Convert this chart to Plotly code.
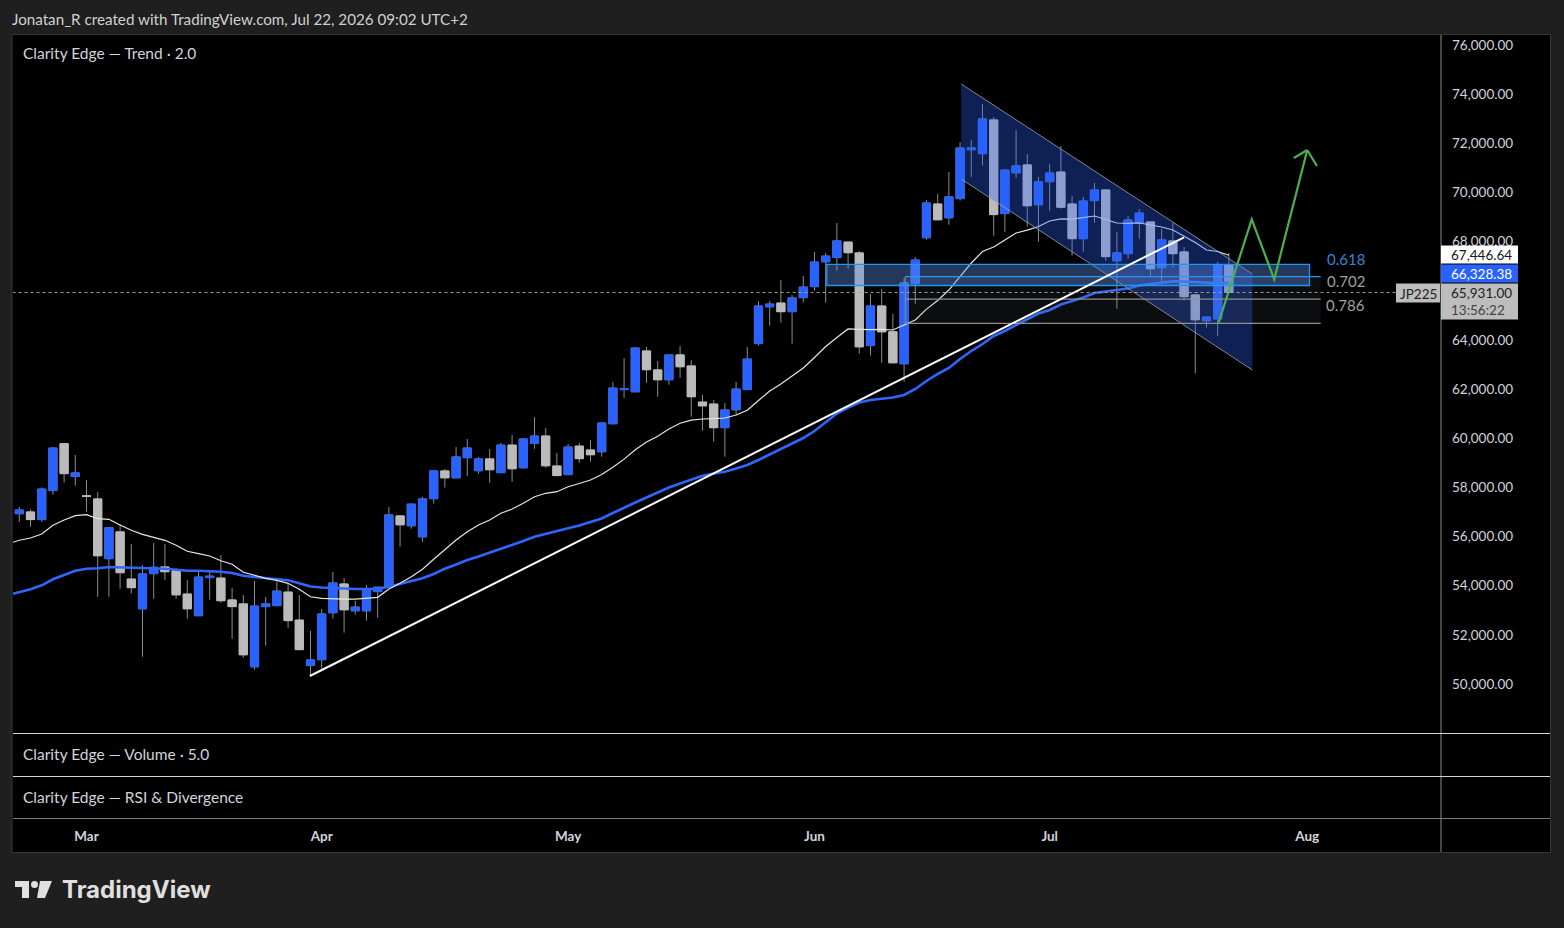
import plotly.graph_objects as go

# ---------------- data (bar index = trading session, prices in index points) ----------------
open_ = [56930, 57000, 56690, 57870, 59780, 58440, 57660, 57530, 55100, 56190,
         54270, 53060, 54490, 54760, 54610, 53660, 52780, 54330, 54310, 53420,
         53260, 50700, 53150, 53190, 53740, 52600, 50750, 50990, 52900, 54070,
         52980, 52980, 53760, 53960, 56840, 56440, 55990, 57540, 58670, 58390,
         59210, 58680, 59160, 58600, 59720, 58800, 59790, 60090, 58870, 58520,
         59680, 59520, 59450, 60590, 61980, 61890, 63550, 62780, 62380, 63390,
         62940, 61470, 61390, 60430, 61160, 61980, 63850, 65350, 65500, 65150,
         65720, 66170, 67180, 67350, 67980, 67540, 63770, 65380, 64330, 63030,
         66290, 68160, 69530, 68970, 69750, 71740, 71580, 72950, 69140, 70800,
         71120, 69500, 70440, 70830, 69530, 68120, 69670, 70100, 67220, 67510,
         68770, 68800, 66940, 68030, 67580, 65830, 64780, 64860, 67050]
high = [57200, 57110, 58000, 59640, 59810, 59320, 58300, 57810, 56400, 56500,
        55700, 54840, 55740, 55700, 54710, 54230, 54560, 54560, 55250, 53910,
        53620, 54190, 53540, 54310, 54100, 53620, 52160, 53050, 54560, 54310,
        53390, 54030, 53940, 57200, 56880, 57330, 57610, 58710, 58750, 59640,
        59970, 59240, 59560, 59810, 60130, 60010, 60860, 60420, 59400, 59770,
        59810, 59930, 60630, 62290, 63260, 63680, 63710, 63140, 63390, 63750,
        63180, 61760, 61560, 61430, 62290, 63710, 65580, 65580, 66440, 65830,
        66600, 67580, 67540, 68760, 67990, 67620, 65870, 66070, 65060, 66520,
        67370, 69690, 69940, 70830, 72050, 72130, 73600, 73070, 70950, 72540,
        71560, 70630, 71160, 71890, 69860, 69820, 70390, 70140, 68390, 69040,
        69330, 68810, 68510, 68760, 67780, 65840, 64940, 67170, 67540]
low = [56590, 56400, 56600, 57700, 58190, 58070, 57010, 53550, 53550, 53880,
       53690, 51110, 53470, 54240, 53470, 52660, 52760, 53430, 53310, 51840,
       51070, 50580, 51560, 53170, 52290, 51380, 50340, 50620, 52660, 52090,
       52820, 52580, 52700, 53940, 55590, 56320, 55790, 57340, 57990, 58380,
       58460, 58560, 58190, 58590, 58230, 58760, 59570, 58800, 58460, 58500,
       59000, 59050, 59250, 60580, 61640, 61880, 62260, 61690, 62180, 62460,
       60880, 60310, 59860, 59250, 60960, 61960, 63770, 64580, 64700, 63850,
       65520, 66000, 65520, 66820, 66900, 63440, 63360, 63070, 63060, 62300,
       65470, 68080, 68880, 68690, 69670, 70640, 71090, 68240, 68400, 70600,
       68610, 68000, 69260, 69340, 67430, 67590, 68770, 67220, 65270, 67300,
       68120, 66610, 66250, 66940, 65600, 62640, 64500, 64170, 65930]
close = [57080, 56690, 57930, 59600, 58560, 58590, 57630, 55220, 56360, 54530,
         53920, 54480, 54750, 54570, 53630, 53060, 54350, 54390, 53390, 53150,
         51190, 53170, 53260, 53780, 52580, 51400, 50980, 52850, 54110, 53020,
         53130, 53870, 53940, 56880, 56480, 57320, 57530, 58670, 58390, 59240,
         59600, 59160, 58720, 59720, 58760, 59970, 60090, 58880, 58480, 59640,
         59170, 59330, 60620, 62040, 62010, 63670, 62790, 62380, 63390, 62910,
         61690, 61320, 60430, 61150, 62000, 63220, 65380, 65460, 65150, 65710,
         66150, 67170, 67410, 68030, 67550, 63720, 65380, 64330, 63070, 66320,
         67250, 69570, 68890, 69820, 71810, 71810, 72990, 69100, 70910, 71080,
         69460, 70430, 70790, 69400, 68120, 69650, 70100, 67390, 67540, 68880,
         69160, 66900, 68070, 67510, 65760, 64820, 64930, 67050, 65931]

# moving averages (white = fast SMA, blue = slow EMA)
ma_bar = [-0.56] + list(range(109))
sma_val = [55766, 55850, 55940, 56104, 56458, 56673, 56848, 56889, 56726, 56702,
           56470, 56254, 56091, 55981, 55847, 55644, 55400, 55302, 55208, 55017,
           54871, 54545, 54407, 54301, 54220, 54098, 53854, 53552, 53487, 53458,
           53458, 53458, 53487, 53527, 53865, 54098, 54366, 54667, 55074, 55453,
           55860, 56197, 56470, 56673, 56946, 57121, 57353, 57621, 57760, 57825,
           58028, 58158, 58301, 58524, 58817, 59151, 59534, 59847, 60083, 60376,
           60612, 60738, 60783, 60795, 60823, 60946, 61137, 61536, 61923, 62208,
           62533, 62858, 63286, 63733, 64100, 64446, 64433, 64417, 64433, 64405,
           64608, 64811, 65255, 65604, 66031, 66573, 67130, 67598, 67781, 68066,
           68351, 68465, 68615, 68839, 68928, 68912, 68981, 69042, 68900, 68758,
           68745, 68766, 68676, 68595, 68473, 68229, 67965, 67659, 67598, 67447]
ema_val = [53674, 53744, 53854, 54017, 54261, 54436, 54611, 54692, 54708, 54761,
           54749, 54733, 54733, 54720, 54692, 54651, 54611, 54611, 54598, 54570,
           54517, 54407, 54354, 54301, 54261, 54220, 54098, 53968, 53927, 53907,
           53874, 53866, 53866, 53874, 53959, 54069, 54191, 54301, 54476, 54692,
           54863, 55046, 55188, 55343, 55493, 55656, 55818, 55994, 56104, 56197,
           56336, 56450, 56592, 56734, 56958, 57182, 57385, 57588, 57791, 57994,
           58158, 58320, 58471, 58565, 58638, 58768, 58910, 59114, 59338, 59562,
           59765, 60010, 60295, 60661, 61007, 61251, 61454, 61556, 61617, 61658,
           61759, 62003, 62329, 62614, 62858, 63224, 63550, 63834, 64160, 64364,
           64608, 64831, 65075, 65218, 65442, 65584, 65726, 65910, 65971, 66031,
           66092, 66214, 66268, 66316, 66385, 66377, 66357, 66316, 66304, 66328]

month_labels = ["Mar", "Apr", "May", "Jun", "Jul", "Aug"]
month_bars = [6, 27, 49, 71, 92, 115]
price_ticks = list(range(50000, 76001, 2000))

# drawings (anchors in bar index / price)
trend_bar = [25.94, 104.0]
trend_price = [50326, 68176]
channel_bar = [84.1, 110.1]
channel_upper = [74413, 66683]
channel_lower = [70548, 62776]
fib_box_bar = [72.1, 115.2]
fib_box_price = [67077, 66215]
fib_levels = ["0.618", "0.702", "0.786"]
fib_prices = [66573, 65658, 64677]
fib_bar = [79.1, 116.2]
fib_label_bar = 120.3
arrow_bar = [107.05, 110.04, 112.05, 115.0]
arrow_price = [64648, 68908, 66467, 71728]
arrow_head_bar = [113.8, 115.86]
arrow_head_price = [71402, 71077]

symbol = "JP225"
last_price = 65931.00
sma_last = 67446.64
ema_last = 66328.38
countdown = "13:56:22"

# ---------------- styling ----------------
W, H = 1564, 928
L, R, T, B = 13, 1441, 35, 818
BLUE = "#2962ff"
GREY = "#bbbbbb"
WICK = "#8c8c8c"
TXT = "#d1d4dc"
FONT = "Lato"


def X(px):
    return (px - L) / (R - L)


def Y(py):
    return (B - py) / (B - T)


bar_idx = list(range(len(open_)))
body_hi = [max(o, c) for o, c in zip(open_, close)]
body_lo = [min(o, c) for o, c in zip(open_, close)]

fig = go.Figure()

# wicks
fig.add_trace(go.Candlestick(
    x=bar_idx, open=open_, high=high, low=low, close=close,
    increasing=dict(line=dict(color=WICK, width=1), fillcolor=BLUE),
    decreasing=dict(line=dict(color=WICK, width=1), fillcolor=GREY),
    hoverinfo="skip", showlegend=False))
# bodies
fig.add_trace(go.Candlestick(
    x=bar_idx, open=open_, high=body_hi, low=body_lo, close=close,
    increasing=dict(line=dict(color=BLUE, width=1), fillcolor=BLUE),
    decreasing=dict(line=dict(color=GREY, width=1), fillcolor=GREY),
    hoverinfo="skip", showlegend=False))

fig.add_trace(go.Scatter(x=ma_bar, y=ema_val, mode="lines",
                         line=dict(color="#2f66ff", width=2.6), hoverinfo="skip", showlegend=False))
fig.add_trace(go.Scatter(x=ma_bar, y=sma_val, mode="lines",
                         line=dict(color="#e6e6e6", width=1.2), hoverinfo="skip", showlegend=False))

shapes = []
# panel background and frame
shapes.append(dict(type="rect", xref="paper", yref="paper", x0=X(12), x1=X(1550.5), y0=Y(852.5), y1=Y(34.5),
                   fillcolor="#000000", line=dict(color="#363636", width=1), layer="below"))

# channel
cpath = "M {a},{b} L {c},{d} L {c},{e} L {a},{f} Z".format(
    a=channel_bar[0], b=channel_upper[0], c=channel_bar[1], d=channel_upper[1],
    e=channel_lower[1], f=channel_lower[0])
shapes.append(dict(type="path", xref="x", yref="y", path=cpath,
                   fillcolor="rgba(41,98,255,0.33)", line=dict(width=0), layer="above"))
shapes.append(dict(type="line", xref="x", yref="y", x0=channel_bar[0], x1=channel_bar[1],
                   y0=channel_upper[0], y1=channel_upper[1], line=dict(color="rgba(170,172,180,0.75)", width=1), layer="above"))
shapes.append(dict(type="line", xref="x", yref="y", x0=channel_bar[0], x1=channel_bar[1],
                   y0=channel_lower[0], y1=channel_lower[1], line=dict(color="rgba(170,172,180,0.75)", width=1), layer="above"))

# fib retracement band
shapes.append(dict(type="rect", xref="x", yref="y", x0=fib_bar[0], x1=fib_bar[1], y0=fib_prices[2], y1=fib_prices[0],
                   fillcolor="rgba(120,123,134,0.10)", line=dict(width=0), layer="above"))
shapes.append(dict(type="line", xref="x", yref="y", x0=fib_bar[0], x1=fib_bar[0], y0=fib_prices[2], y1=fib_prices[0],
                   line=dict(color="#8a8a8a", width=1), layer="above"))
fib_colors = ["#2196f3", "#8f8f8f", "#8f8f8f"]
for p, col in zip(fib_prices, fib_colors):
    shapes.append(dict(type="line", xref="x", yref="y", x0=fib_bar[0], x1=fib_bar[1], y0=p, y1=p,
                       line=dict(color=col, width=1.3), layer="above"))
# blue zone box
shapes.append(dict(type="rect", xref="x", yref="y", x0=fib_box_bar[0], x1=fib_box_bar[1],
                   y0=fib_box_price[1], y1=fib_box_price[0],
                   fillcolor="rgba(90,140,230,0.40)", line=dict(color="#2196f3", width=1.3), layer="above"))

# trend line
shapes.append(dict(type="line", xref="x", yref="y", x0=trend_bar[0], x1=trend_bar[1],
                   y0=trend_price[0], y1=trend_price[1], line=dict(color="#ffffff", width=2), layer="above"))

# projected path (green arrow)
apath = "M " + " L ".join("{},{}".format(b, p) for b, p in zip(arrow_bar, arrow_price))
shapes.append(dict(type="path", xref="x", yref="y", path=apath, line=dict(color="#4caf50", width=2.2), layer="above"))
for hb, hp in zip(arrow_head_bar, arrow_head_price):
    shapes.append(dict(type="line", xref="x", yref="y", x0=arrow_bar[-1], y0=arrow_price[-1], x1=hb, y1=hp,
                       line=dict(color="#4caf50", width=2.2), layer="above"))

# last price dotted line
shapes.append(dict(type="line", xref="x", yref="y", x0=-0.6, x1=122.9, y0=last_price, y1=last_price,
                   line=dict(color="#9e9e9e", width=1, dash="dot"), layer="above"))

# pane separators
shapes.append(dict(type="line", xref="paper", yref="paper", x0=X(1441), x1=X(1441), y0=Y(852), y1=Y(35),
                   line=dict(color="#8a8a8a", width=1), layer="above"))
shapes.append(dict(type="line", xref="paper", yref="paper", x0=X(13), x1=X(1550), y0=Y(733.5), y1=Y(733.5),
                   line=dict(color="#d6d6d6", width=1), layer="above"))
shapes.append(dict(type="line", xref="paper", yref="paper", x0=X(13), x1=X(1550), y0=Y(776.5), y1=Y(776.5),
                   line=dict(color="#d6d6d6", width=1), layer="above"))
shapes.append(dict(type="line", xref="paper", yref="paper", x0=X(13), x1=X(1550), y0=Y(818.5), y1=Y(818.5),
                   line=dict(color="#7a7a7a", width=1), layer="above"))

# price-scale labels (boxes)
shapes.append(dict(type="rect", xref="paper", yref="paper", x0=X(1441), x1=X(1518), y0=Y(263.5), y1=Y(245.5),
                   fillcolor="#ffffff", line=dict(width=0), layer="above"))
shapes.append(dict(type="rect", xref="paper", yref="paper", x0=X(1441), x1=X(1518), y0=Y(282.5), y1=Y(264.5),
                   fillcolor=BLUE, line=dict(width=0), layer="above"))
shapes.append(dict(type="rect", xref="paper", yref="paper", x0=X(1441), x1=X(1518), y0=Y(319.5), y1=Y(283.5),
                   fillcolor="#bdbdbd", line=dict(width=0), layer="above"))
shapes.append(dict(type="rect", xref="paper", yref="paper", x0=X(1396), x1=X(1440), y0=Y(302.5), y1=Y(283.5),
                   fillcolor="#bdbdbd", line=dict(width=0), layer="above"))

# TradingView logo mark
shapes.append(dict(type="rect", xref="paper", yref="paper", x0=X(15), x1=X(29), y0=Y(887), y1=Y(881),
                   fillcolor="#e0e0e0", line=dict(width=0), layer="above"))
shapes.append(dict(type="rect", xref="paper", yref="paper", x0=X(22), x1=X(29), y0=Y(898), y1=Y(881),
                   fillcolor="#e0e0e0", line=dict(width=0), layer="above"))
shapes.append(dict(type="circle", xref="paper", yref="paper", x0=X(31), x1=X(38), y0=Y(888), y1=Y(881),
                   fillcolor="#e0e0e0", line=dict(width=0), layer="above"))
shapes.append(dict(type="path", xref="paper", yref="paper",
                   path="M {},{} L {},{} L {},{} L {},{} Z".format(X(40), Y(881), X(52), Y(881), X(45), Y(898), X(37), Y(898)),
                   fillcolor="#e0e0e0", line=dict(width=0), layer="above"))

annotations = []


def txt(px, py, text, size=14, color=TXT, xanchor="left", weight="normal", family=FONT):
    annotations.append(dict(xref="paper", yref="paper", x=X(px), y=Y(py), text=text, showarrow=False,
                            xanchor=xanchor, yanchor="middle",
                            font=dict(family=family, size=size, color=color, weight=weight)))


txt(10, 19, "Jonatan_R created with TradingView.com, Jul 22, 2026 09:02 UTC+2", size=15.2, color="#d0d0d0")
txt(21, 53, "Clarity Edge — Trend · 2.0", size=15.5)
txt(21, 754, "Clarity Edge — Volume · 5.0", size=15.5)
txt(21, 797, "Clarity Edge — RSI &amp; Divergence", size=15.5)
txt(60, 890, "TradingView", size=24, color="#e0e0e0", weight="bold", family="Inter")

# price scale labels text
txt(1514, 255, "{:,.2f}".format(sma_last), size=13.5, color="#131722", xanchor="right")
txt(1514, 274, "{:,.2f}".format(ema_last), size=13.5, color="#ffffff", xanchor="right")
txt(1514, 293, "{:,.2f}".format(last_price), size=13.5, color="#222222", xanchor="right")
txt(1507, 310, countdown, size=13.5, color="#444444", xanchor="right")
txt(1418, 293.5, symbol, size=13.5, color="#222222", xanchor="center")

# fib level labels
fib_label_colors = ["#2f86d8", "#a0a0a0", "#a0a0a0"]
for lab, p, col in zip(fib_levels, fib_prices, fib_label_colors):
    annotations.append(dict(xref="x", yref="y", x=fib_label_bar, y=p, text=lab, showarrow=False,
                            xanchor="right", yanchor="bottom", yshift=7,
                            font=dict(family=FONT, size=15, color=col)))

fig.update_layout(
    width=W, height=H,
    margin=dict(l=L, r=W - R, t=T, b=H - B),
    paper_bgcolor="#1f1f1f",
    plot_bgcolor="#000000",
    showlegend=False,
    boxgap=0.27, boxgroupgap=0,
    shapes=shapes,
    annotations=annotations,
    xaxis=dict(range=[-0.5625, 126.94], tickvals=month_bars, ticktext=month_labels,
               showgrid=False, zeroline=False, showline=False, ticks="",
               anchor="free", position=0, ticklabelstandoff=8,
               tickfont=dict(family=FONT, size=13.5, color=TXT, weight="bold"),
               rangeslider=dict(visible=False), fixedrange=True),
    yaxis=dict(domain=[(B - 733) / (B - T), 1], range=[48007, 76407], side="right",
               tickvals=price_ticks, tickformat=",.2f", showgrid=False, zeroline=False,
               showline=False, ticks="", ticklabelstandoff=10,
               tickfont=dict(family=FONT, size=13.5, color=TXT), fixedrange=True),
)

fig.write_html("out.html")
